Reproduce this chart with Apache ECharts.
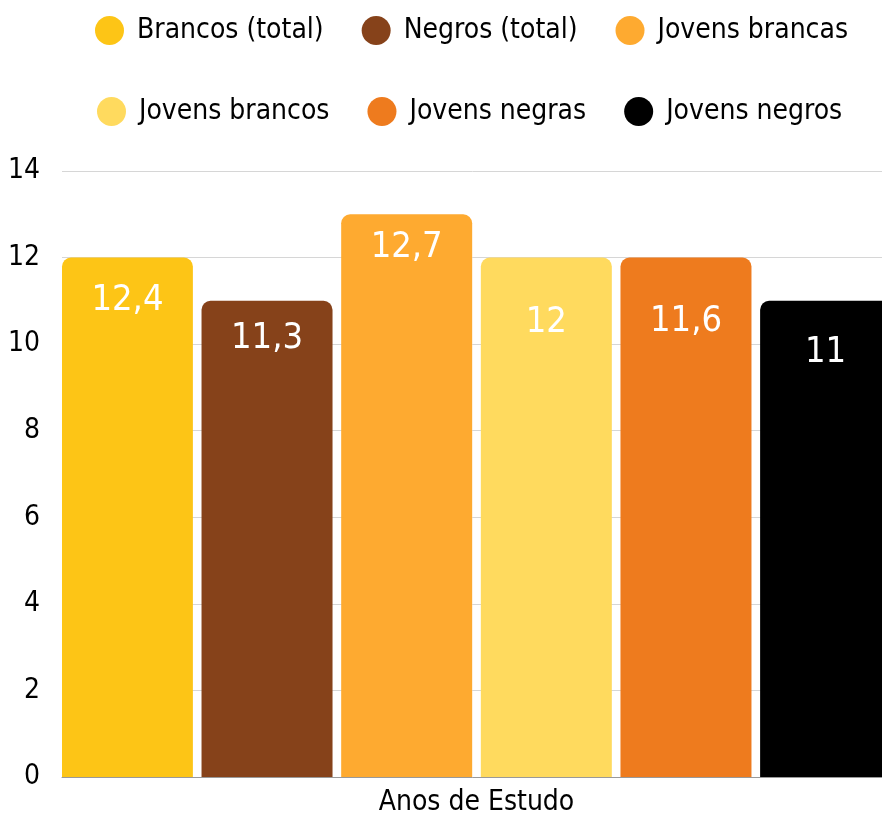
<!DOCTYPE html>
<html>
<head>
<meta charset="utf-8">
<script src="https://cdn.jsdelivr.net/npm/echarts@6/dist/echarts.min.js"></script>
<style>
  html, body { margin: 0; padding: 0; background: #fff; }
  #main { width: 882px; height: 821px; }
</style>
</head>
<body>
<div id="main"></div>
<script>
// dados
const categories = ['Anos de Estudo']
const seriesNames = ['Brancos (total)', 'Negros (total)', 'Jovens brancas', 'Jovens brancos', 'Jovens negras', 'Jovens negros']
const values = [12, 11, 13, 12, 12, 11]
const valueLabels = ['12,4', '11,3', '12,7', '12', '11,6', '11']
const yTicks = [0, 14, 2]  // min, max, interval

// estilo
const colors = ['#FDC516', '#86421A', '#FEAA30', '#FFDA5E', '#EE7B1E', '#000000']
const labelDist = [25, 20, 15, 47, 46, 34]
const font = '"Liberation Sans Narrow", "DejaVu Sans Condensed", sans-serif'

let myChart = echarts.init(document.getElementById('main'))

let series = seriesNames.map((name, i) => ({
    name: name,
    type: 'bar',
    barWidth: 131,
    barGap: '6.6%',
    data: [values[i]],
    itemStyle: { color: colors[i], borderRadius: [9, 9, 0, 0] },
    label: {
        show: true,
        position: 'insideTop',
        distance: labelDist[i],
        color: '#fff',
        fontFamily: font,
        fontSize: 36,
        formatter: () => valueLabels[i]
    }
}))

let legendBase = {
    icon: 'circle',
    itemWidth: 29,
    itemHeight: 29,
    itemGap: 38,
    textStyle: { fontFamily: font, fontSize: 28, color: '#000', padding: [0, 0, 0, 8] }
}

let option = {
    color: colors,
    animation: false,
    legend: [
        Object.assign({}, legendBase, { left: 90, top: 11, data: seriesNames.slice(0, 3) }),
        Object.assign({}, legendBase, { left: 92, top: 92, data: seriesNames.slice(3) })
    ],
    grid: { left: 62, width: 829, top: 171, bottom: 44, outerBoundsMode: 'none' },
    xAxis: {
        type: 'category',
        data: categories,
        axisLine: { lineStyle: { color: '#999' } },
        axisTick: { show: false },
        axisLabel: { fontFamily: font, fontSize: 28, color: '#000', margin: 12 }
    },
    yAxis: {
        type: 'value',
        min: yTicks[0],
        max: yTicks[1],
        interval: yTicks[2],
        axisLabel: { fontFamily: font, fontSize: 28, color: '#000', margin: 22 },
        splitLine: { lineStyle: { color: '#d6d6d6', width: 1 } }
    },
    series: series
}
myChart.setOption(option)
</script>
</body>
</html>
